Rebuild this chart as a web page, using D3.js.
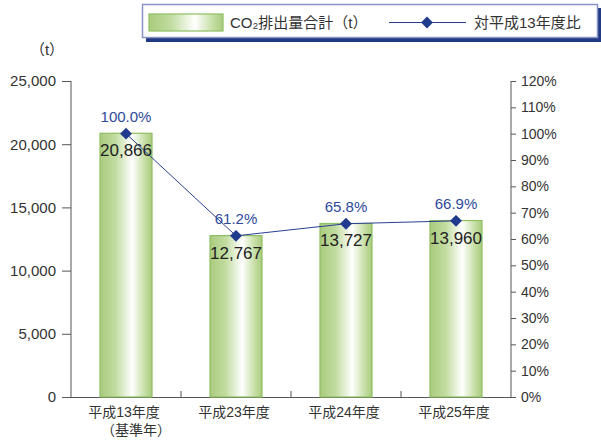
<!DOCTYPE html>
<html><head><meta charset="utf-8">
<script src="https://cdn.jsdelivr.net/npm/d3@7"></script>
<style>
html,body{margin:0;padding:0;background:#fff;}
svg text{font-family:"Liberation Sans","Noto Sans CJK JP",Arial,sans-serif;}
</style></head>
<body>
<svg id="chart" width="601" height="441"></svg>
<script>
const categories = ["平成13年度", "平成23年度", "平成24年度", "平成25年度"];
const categorySub = ["（基準年）", "", "", ""];
const emissions = [20866, 12767, 13727, 13960];
const ratios = [100.0, 61.2, 65.8, 66.9];
const leftTicks = [0, 5000, 10000, 15000, 20000, 25000];
const rightTicks = [0,10,20,30,40,50,60,70,80,90,100,110,120];
const legendBar = "CO₂排出量合計（t）";
const legendLine = "対平成13年度比";
const unitLabel = "（t）";

const svg = d3.select("#chart");
const pL = 71, pR = 511, pT = 81, pB = 397;

const x = d3.scaleBand().domain(categories).range([pL, pR]).paddingInner(0).paddingOuter(0);
const yL = d3.scaleLinear().domain([0, 25000]).range([pB, pT]);
const yR = d3.scaleLinear().domain([0, 120]).range([pB, pT]);

const defs = svg.append("defs");
const g = defs.append("linearGradient").attr("id","barGrad").attr("x1","0").attr("x2","1").attr("y1","0").attr("y2","0");
g.append("stop").attr("offset","0%").attr("stop-color","#a9cb7e");
g.append("stop").attr("offset","30%").attr("stop-color","#c2dca0");
g.append("stop").attr("offset","62%").attr("stop-color","#ffffff");
g.append("stop").attr("offset","85%").attr("stop-color","#c8e0a8");
g.append("stop").attr("offset","100%").attr("stop-color","#a9cb7e");

const textCol = "#333";
const axisCol = "#555";

// Left axis
const axL = svg.append("g").attr("transform",`translate(${pL},0)`)
  .call(d3.axisLeft(yL).tickValues(leftTicks).tickSize(9).tickPadding(6).tickFormat(d3.format(",")));
axL.select(".domain").attr("stroke",axisCol).attr("d",`M0,${pT}V${pB}`);
axL.selectAll(".tick line").attr("stroke",axisCol);
axL.selectAll(".tick text").attr("fill",textCol).style("font-size","15px");

// Right axis
const axR = svg.append("g").attr("transform",`translate(${pR},0)`)
  .call(d3.axisRight(yR).tickValues(rightTicks).tickSize(5).tickPadding(5).tickFormat(d => d + "%"));
axR.select(".domain").attr("stroke",axisCol).attr("d",`M0,${pT}V${pB}`);
axR.selectAll(".tick line").attr("stroke",axisCol);
axR.selectAll(".tick text").attr("fill",textCol).style("font-size","14px");

// baseline & category ticks
svg.append("line").attr("x1",pL).attr("x2",pR).attr("y1",pB+0.5).attr("y2",pB+0.5).attr("stroke",axisCol);
svg.selectAll(".ctick").data(categories.slice(1)).enter().append("line")
  .attr("x1",d=>x(d)).attr("x2",d=>x(d)).attr("y1",pB).attr("y2",pB-6).attr("stroke",axisCol);

// Bars
const bw = 52;
svg.selectAll(".bar").data(emissions).enter().append("rect")
  .attr("x",(d,i)=>x(categories[i]) + x.bandwidth()/2 - bw/2)
  .attr("y",d=>yL(d))
  .attr("width",bw)
  .attr("height",d=>pB - yL(d))
  .attr("fill","url(#barGrad)")
  .attr("stroke","#8fbe63").attr("stroke-width",1.2);

// Value labels
svg.selectAll(".vl").data(emissions).enter().append("text")
  .attr("x",(d,i)=>x(categories[i]) + x.bandwidth()/2)
  .attr("y",d=>yL(d)+23)
  .attr("text-anchor","middle").attr("fill","#222").style("font-size","17px")
  .text(d=>d3.format(",")(d));

// Line
const cx = (d,i)=>x(categories[i]) + x.bandwidth()/2;
const line = d3.line().x((d,i)=>cx(d,i)).y(d=>yR(d));
svg.append("path").datum(ratios).attr("d",line).attr("fill","none").attr("stroke","#2b3f91").attr("stroke-width",1);
svg.selectAll(".mk").data(ratios).enter().append("path")
  .attr("d",d3.symbol().type(d3.symbolDiamond2).size(90))
  .attr("transform",(d,i)=>`translate(${cx(d,i)},${yR(d)})`)
  .attr("fill","#203a8e");

// Ratio labels
svg.selectAll(".rl").data(ratios).enter().append("text")
  .attr("x",(d,i)=>cx(d,i))
  .attr("y",d=>yR(d)-12)
  .attr("text-anchor","middle").attr("fill","#2d4a9c").style("font-size","15px")
  .text(d=>d.toFixed(1)+"%");

// X labels
svg.selectAll(".xl").data(categories).enter().append("text")
  .attr("x",d=>x(d)+x.bandwidth()/2 - 2)
  .attr("y",pB+20)
  .attr("text-anchor","middle").attr("fill",textCol).style("font-size","14px")
  .text(d=>d);
svg.selectAll(".xs").data(categorySub).enter().append("text")
  .attr("x",(d,i)=>x(categories[i])+x.bandwidth()/2 + 10)
  .attr("y",pB+38)
  .attr("text-anchor","middle").attr("fill",textCol).style("font-size","14px")
  .text(d=>d);

// unit label
svg.append("text").attr("x",47).attr("y",55).attr("text-anchor","middle").attr("fill",textCol).style("font-size","15px").text(unitLabel);

// Legend
svg.append("rect").attr("x",146).attr("y",8).attr("width",455).attr("height",34).attr("fill","#223a82");
svg.append("rect").attr("x",142.5).attr("y",4.5).attr("width",455).attr("height",33).attr("fill","#fff").attr("stroke","#8a93c6").attr("stroke-width",1.5);
svg.append("rect").attr("x",149).attr("y",14).attr("width",74).attr("height",17).attr("fill","url(#barGrad)").attr("stroke","#8fbe63").attr("stroke-width",1.2);
svg.append("text").attr("x",230).attr("y",28).attr("fill",textCol).style("font-size","15px").text(legendBar);
svg.append("line").attr("x1",389).attr("x2",466).attr("y1",22.5).attr("y2",22.5).attr("stroke","#2b3f91");
svg.append("path").attr("d",d3.symbol().type(d3.symbolDiamond2).size(90)).attr("transform","translate(427,22.5)").attr("fill","#203a8e");
svg.append("text").attr("x",474).attr("y",28).attr("fill",textCol).style("font-size","15px").text(legendLine);
</script>
</body></html>
